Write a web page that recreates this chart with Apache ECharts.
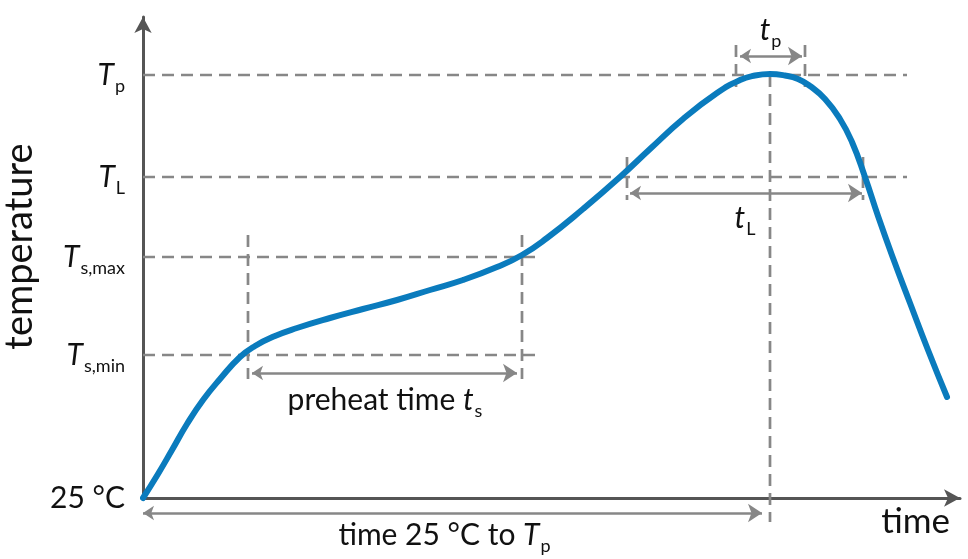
<!DOCTYPE html>
<html><head><meta charset="utf-8">
<script src="https://cdn.jsdelivr.net/npm/echarts@6/dist/echarts.min.js"></script>
<style>html,body{margin:0;padding:0;background:#fff}#c{width:968px;height:559px}</style>
</head><body><div id="c"></div>
<script>
// Reflow profile (arbitrary units; origin = 25 °C at time 0)
const profileTime = [0,15,29,44,60,77,97,112,132,154,187,220,254,287,320,354,379,404,440,477,507,540,574,597,612,627,642,655,667,682,697,709,722,735,750,767,785,804];
const profileTemp = [0,24,48,74,98,119,141,152,162,170,180,189,198,208,218,231,243,260,289,321,349,379,405,418,422.5,424,422.5,419,412,399,379,356,321,282,240,195,148,101];
// Temperature levels (y tick labels)
const levelMain = ['25 °C','T','T','T','T'];
const levelSub  = ['','s,min','s,max','L','p'];
const levelValues = [0,143,241,321,423];
// Time marks
const preheatTimes = [105,379];
const liquidusTimes = [484,720];
const peakWindow = [593,662];
const peakTime = 627;

const F = 'Lato';
const INK = '#111111';
const GRAY = '#878787';
const rich = {
  T: {fontFamily:F, fontStyle:'italic', fontSize:30, color:INK, lineHeight:40, verticalAlign:'middle'},
  s: {fontFamily:F, fontSize:18, color:INK, lineHeight:18, verticalAlign:'bottom', padding:[0,0,0,1]},
  n: {fontFamily:F, fontSize:30, color:INK, lineHeight:40, verticalAlign:'middle'}
};
const [Tsmin, Tsmax, TL, Tp] = levelValues.slice(1);
const DASH = {color:GRAY, width:2.7, type:[12,7]};
function seg(a,b){
  return {type:'line', data:[a,b], symbol:'none', lineStyle:DASH, clip:false, silent:true, z:1, animation:false};
}
const series = [];
// horizontal guides
series.push(seg([0,Tp],[764,Tp]));
series.push(seg([0,TL],[764,TL]));
series.push(seg([0,Tsmax],[397,Tsmax]));
series.push(seg([0,Tsmin],[397,Tsmin]));
// vertical guides
preheatTimes.forEach(t=>series.push(seg([t,Tsmax+22],[t,Tsmin-24])));
liquidusTimes.forEach(t=>series.push(seg([t,TL+20],[t,TL-23])));
peakWindow.forEach(t=>series.push(seg([t,Tp+30],[t,Tp-12])));
series.push(seg([peakTime,Tp],[peakTime,-24]));
// arrows
series.push({
  type:'lines', coordinateSystem:'cartesian2d', clip:false, silent:true, z:2,
  symbol:['arrow','arrow'], symbolSize:[11,14],
  lineStyle:{color:GRAY, width:2.7, type:'solid', opacity:1},
  data:[
    {coords:[[preheatTimes[0]+4,Tsmin-18],[preheatTimes[1]-5,Tsmin-18]]},
    {coords:[[liquidusTimes[0]+3,TL-16],[liquidusTimes[1]-1,TL-16]]},
    {coords:[[peakWindow[0]+4,Tp+19],[peakWindow[1]-3,Tp+19]]},
    {coords:[[0,-15],[peakTime-8,-15]]}
  ]
});
// profile curve
series.push({
  type:'line', smooth:0.5, symbol:'none', z:5, clip:false,
  lineStyle:{color:'#0a7bbd', width:6, cap:'round'},
  data: profileTime.map((t,i)=>[t, profileTemp[i]])
});
// annotation labels
series.push({
  type:'scatter', symbolSize:0, silent:true, z:6, clip:false,
  itemStyle:{color:INK, opacity:1},
  label:{show:true, position:'inside', color:INK, textBorderWidth:0, opacity:1, rich},
  data:[
    {value:[(preheatTimes[0]+preheatTimes[1])/2, Tsmin-45], label:{formatter:'{n|preheat time }{T|t}{s|s}'}},
    {value:[(liquidusTimes[0]+liquidusTimes[1])/2, TL-41], label:{formatter:'{T|t}{s|L}'}},
    {value:[(peakWindow[0]+peakWindow[1])/2, Tp+45], label:{formatter:'{T|t}{s|p}'}},
    {value:[peakTime/2-12, -37], label:{formatter:'{n|time 25 °C to }{T|T}{s|p}'}}
  ]
});

const chart = echarts.init(document.getElementById('c'), null, {renderer:'canvas'});
chart.setOption({
  animation:false,
  backgroundColor:'#ffffff',
  grid:{left:143, right:8, top:17, bottom:61, containLabel:false, outerBoundsMode:'none'},
  xAxis:{
    type:'value', min:0, max:817,
    axisLine:{show:true, symbol:['none','arrow'], symbolSize:[13,16], lineStyle:{color:'#555555', width:3}},
    axisTick:{show:false}, axisLabel:{show:false}, splitLine:{show:false},
    name:'time', nameLocation:'end', nameGap:-10,
    nameTextStyle:{fontFamily:F, fontSize:35, color:INK, align:'right', verticalAlign:'top', padding:[6,0,0,0]}
  },
  yAxis:{
    type:'value', min:0, max:481,
    axisLine:{show:true, symbol:['none','arrow'], symbolSize:[13,16], lineStyle:{color:'#555555', width:3}},
    axisTick:{show:false}, splitLine:{show:false},
    axisLabel:{
      show:true, margin:18, customValues:levelValues,
      formatter:(v)=>{
        const i = levelValues.indexOf(v);
        if (i < 0) return '';
        return levelSub[i] ? '{T|'+levelMain[i]+'}{s|'+levelSub[i]+'}' : '{n|'+levelMain[i]+'}';
      },
      rich
    },
    name:'temperature', nameLocation:'middle', nameGap:95,
    nameTextStyle:{fontFamily:F, fontSize:38, color:INK, padding:[0,0,0,22]}
  },
  series
});
</script>
</body></html>
